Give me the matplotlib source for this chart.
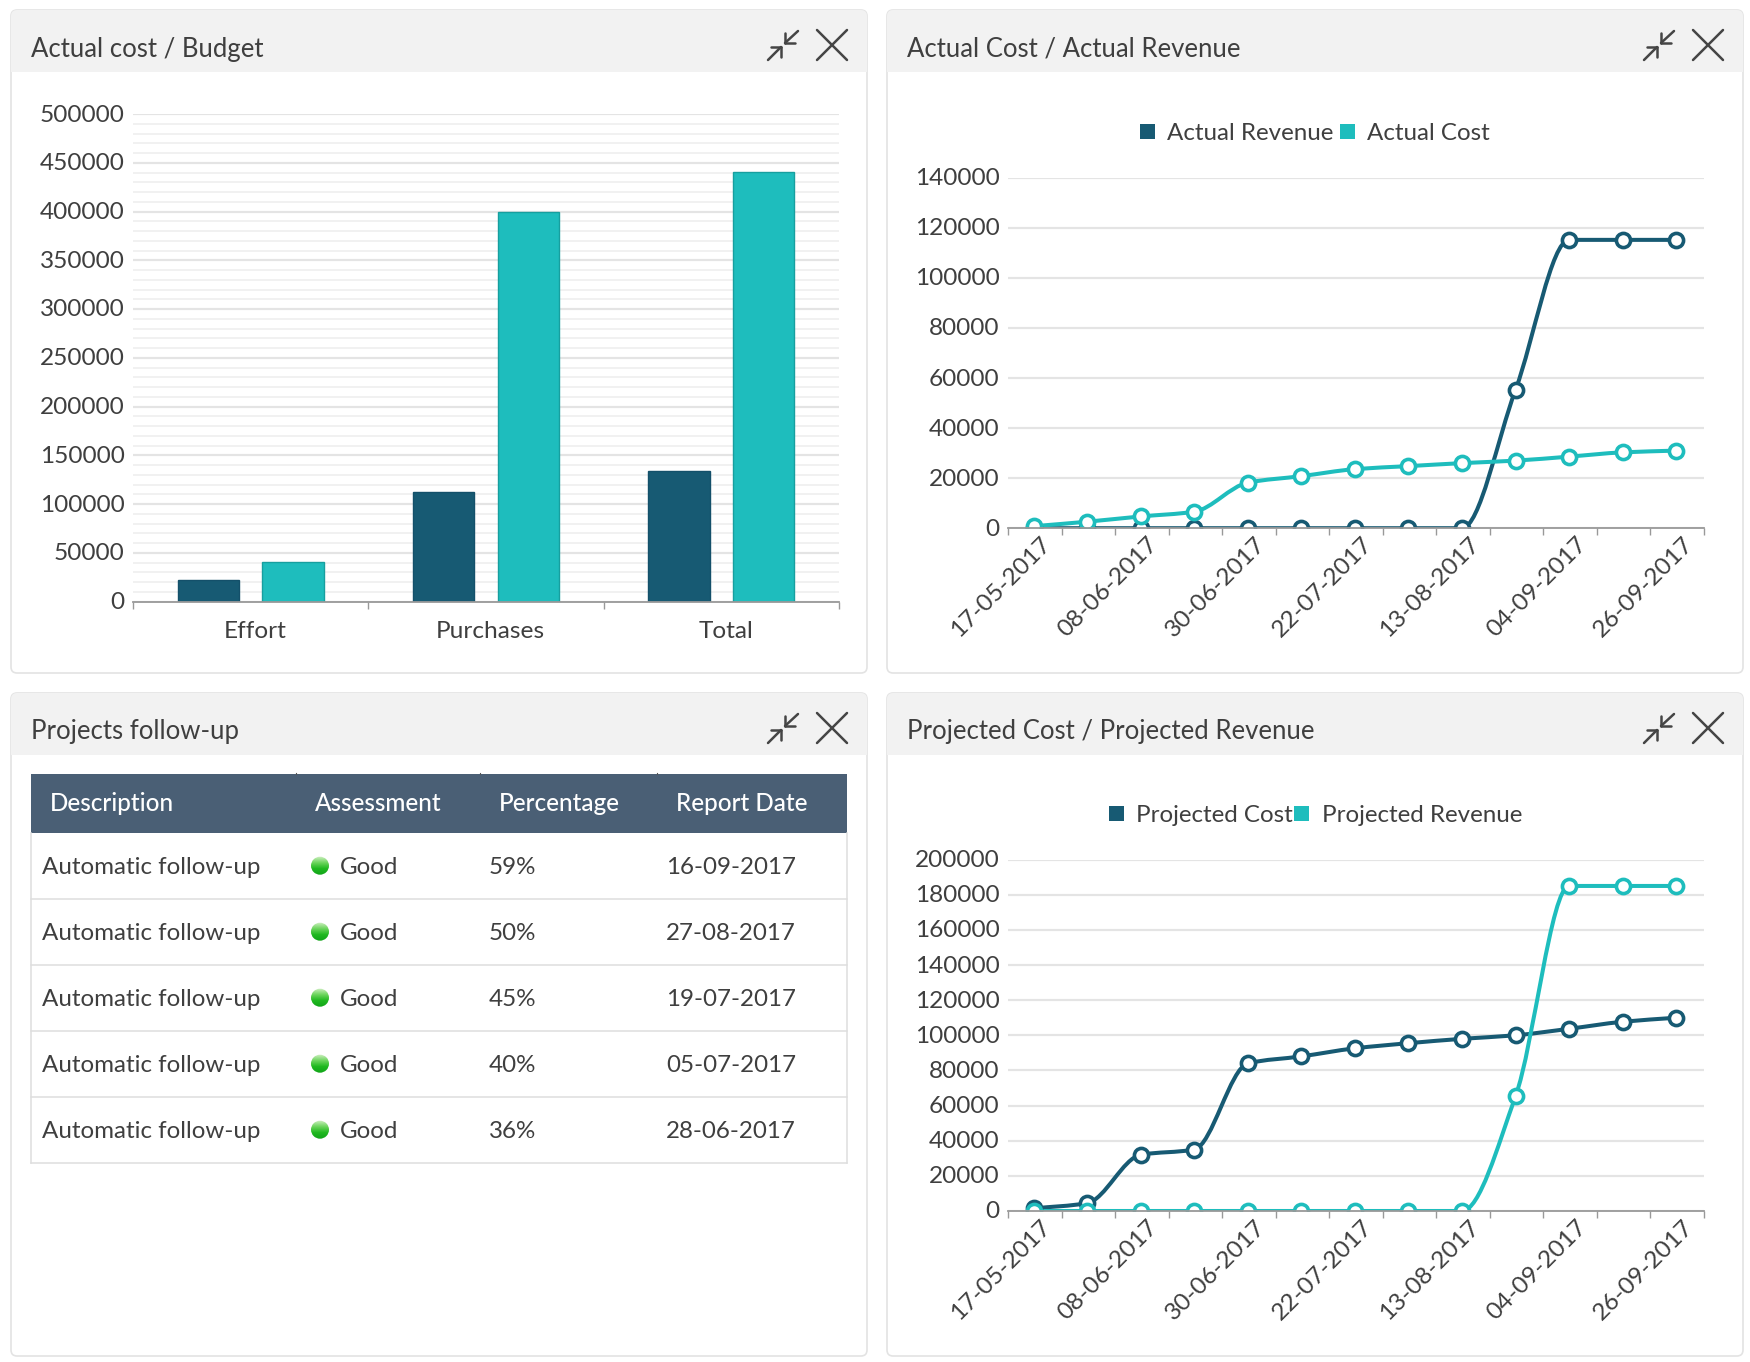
import numpy as np
import matplotlib
matplotlib.use('Agg')
import matplotlib.pyplot as plt
from matplotlib.patches import FancyBboxPatch, Rectangle, PathPatch, Circle
from matplotlib.path import Path
from matplotlib.transforms import ScaledTranslation

W, H = 1750, 1362
plt.rcParams['font.family'] = ['Lato', 'DejaVu Sans']

DARK = '#175a73'
TEAL = '#1ebdbd'
TEXT = '#3f3f3f'
TICK_SIZE = 17.6
BODY_SIZE = 17.4

# --- data
bar_categories = ['Effort', 'Purchases', 'Total']
bar_actual = [22200, 112500, 133500]
bar_budget = [40900, 400000, 440800]

dates = ['17-05-2017', '28-05-2017', '08-06-2017', '19-06-2017', '30-06-2017',
         '11-07-2017', '22-07-2017', '02-08-2017', '13-08-2017', '24-08-2017',
         '04-09-2017', '15-09-2017', '26-09-2017']
actual_revenue = [0, 0, 0, 0, 0, 0, 0, 0, 0, 55300, 115200, 115200, 115200]
actual_cost = [800, 2600, 4700, 6600, 18200, 20800, 23600, 24800, 26000, 27000, 28600, 30300, 31000]
projected_cost = [1500, 4500, 32000, 35000, 84000, 88000, 92600, 95500, 98000, 100000, 103700, 107700, 110000]
projected_revenue = [0, 0, 0, 0, 0, 0, 0, 0, 0, 65300, 185000, 185000, 185000]

table_head = ['Description', 'Assessment', 'Percentage', 'Report Date']
table_desc = ['Automatic follow-up'] * 5
table_assess = ['Good'] * 5
table_pct = ['59%', '50%', '45%', '40%', '36%']
table_date = ['16-09-2017', '27-08-2017', '19-07-2017', '05-07-2017', '28-06-2017']

titles = ['Actual cost / Budget', 'Actual Cost / Actual Revenue',
          'Projects follow-up', 'Projected Cost / Projected Revenue']


def px_axes(fig, left, top, right, bottom):
    ax = fig.add_axes([left / W, 1 - bottom / H, (right - left) / W, (bottom - top) / H])
    ax.set_facecolor('none')
    return ax


def nudge(labels, fig, dx, dy):
    # move tick labels by some pixels, has to come after tick_params
    for label in labels:
        label.set_transform(label.get_transform() + ScaledTranslation(dx / 100, dy / 100, fig.dpi_scale_trans))


def smooth_path(x, y):
    # monotone cubic through the points, same look as the dashboard lines
    y = np.asarray(y, dtype=float)
    d = np.diff(y)
    m = np.zeros(len(y))
    m[0], m[-1] = d[0], d[-1]
    for i in range(1, len(y) - 1):
        if d[i - 1] * d[i] > 0:
            m[i] = 2 * d[i - 1] * d[i] / (d[i - 1] + d[i])
    verts = [(x[0], y[0])]
    codes = [Path.MOVETO]
    for i in range(len(y) - 1):
        verts += [(x[i] + 1 / 3, y[i] + m[i] / 3),
                  (x[i + 1] - 1 / 3, y[i + 1] - m[i + 1] / 3),
                  (x[i + 1], y[i + 1])]
        codes += [Path.CURVE4] * 3
    return Path(verts, codes)


def panel(bg, left, top, title):
    width, height, head = 856, 663, 62
    box = FancyBboxPatch((left + 5, top + 5), width - 10, height - 10,
                         boxstyle='round,pad=5,rounding_size=6', fc='white',
                         ec='#e3e3e3', lw=1.2, zorder=1, mutation_aspect=1)
    bg.add_patch(box)
    header = Rectangle((left, top), width, head, fc='#f2f2f2', ec='none', zorder=2)
    bg.add_patch(header)
    header.set_clip_path(box)
    bg.text(left + 20, top + 39, title, fontsize=18.5, color=TEXT, va='center', zorder=3)
    # compress icon + close icon
    ox, oy = left - 11, top - 10
    segs = [((798, 31), (785, 43)), ((785, 33), (785, 43)), ((785, 43), (795, 43)),
            ((768, 60), (781, 47)), ((771, 47), (781, 47)), ((781, 47), (781, 57)),
            ((817, 30), (847, 60)), ((817, 60), (847, 30))]
    for (x0, y0), (x1, y1) in segs:
        bg.plot([x0 + ox, x1 + ox], [y0 + oy, y1 + oy], color='#454545', lw=1.8,
                solid_capstyle='round', zorder=3)


def legend(bg, entries, y):
    for square_x, text_x, label, color in entries:
        bg.add_patch(Rectangle((square_x, y - 8), 15, 15, fc=color, ec='none', zorder=3))
        bg.text(text_x, y + 1, label, fontsize=BODY_SIZE, color=TEXT, va='center', zorder=3)


def style_axis(ax):
    for side in ['top', 'left', 'right']:
        ax.spines[side].set_visible(False)
    ax.spines['bottom'].set_color('#999999')
    ax.spines['bottom'].set_linewidth(1.3)
    ax.set_axisbelow(True)
    ax.tick_params(axis='y', length=0, labelsize=TICK_SIZE, labelcolor=TEXT, pad=6)
    ax.grid(axis='y', which='major', color='#e4e4e4', lw=1.6)
    nudge(ax.get_yticklabels(), ax.figure, 0, 1)


def line_chart(fig, top, bottom, first, second, ymax, step):
    ax = px_axes(fig, 1008, top, 1704, bottom)
    pos = np.arange(len(dates)) - 0.02
    for values, color in [first, second]:
        ax.add_patch(PathPatch(smooth_path(pos, values), fill=False, ec=color, lw=2.9))
        ax.plot(pos, values, ls='none', marker='o', ms=10.2, mfc='white', mec=color, mew=2.6)
    ax.set_xlim(-0.5, 12.5)
    ax.set_ylim(0, ymax)
    ax.set_yticks(np.arange(0, ymax + 1, step))
    style_axis(ax)
    ax.set_xticks(np.arange(-0.5, 13))
    ax.set_xticks(np.arange(13), minor=True)
    ax.set_xticklabels([])
    ax.set_xticklabels([d if i % 2 == 0 else '' for i, d in enumerate(dates)], minor=True,
                       rotation=45, ha='right', va='top', rotation_mode='anchor',
                       fontsize=TICK_SIZE, color=TEXT)
    ax.tick_params(axis='x', which='major', length=5, color='#999999', width=1)
    ax.tick_params(axis='x', which='minor', length=0, pad=7)
    nudge(ax.get_xticklabels(minor=True), fig, 5.5, 4.5)
    return ax


fig = plt.figure(figsize=(W / 100, H / 100), dpi=100, facecolor='white')
bg = fig.add_axes([0, 0, 1, 1])
bg.set_xlim(0, W)
bg.set_ylim(H, 0)
bg.axis('off')

panel(bg, 11, 10, titles[0])
panel(bg, 887, 10, titles[1])
panel(bg, 11, 693, titles[2])
panel(bg, 887, 693, titles[3])

# --- bars
ax = px_axes(fig, 133, 114, 839, 601.5)
xpos = np.arange(len(bar_categories))
ax.bar(xpos - 0.18, bar_actual, width=0.26, color=DARK, edgecolor='#14506a', lw=1)
ax.bar(xpos + 0.18, bar_budget, width=0.26, color=TEAL, edgecolor='#179f9f', lw=1)
ax.set_xlim(-0.5, 2.5)
ax.set_ylim(0, 500000)
ax.set_yticks(np.arange(0, 500001, 50000))
ax.set_yticks(np.arange(0, 500001, 10000), minor=True)
style_axis(ax)
ax.grid(axis='y', which='minor', color='#f1f1f1', lw=1.4)
ax.set_xticks([-0.5, 0.5, 1.5, 2.5])
ax.set_xticklabels([])
ax.set_xticks(xpos, minor=True)
ax.set_xticklabels(bar_categories, minor=True, fontsize=TICK_SIZE, color=TEXT)
ax.tick_params(axis='y', which='minor', length=0)
ax.tick_params(axis='x', which='major', length=5, color='#999999', width=1)
ax.tick_params(axis='x', which='minor', length=0, pad=14)
nudge(ax.get_xticklabels(minor=True), fig, 4.5, 0)

# --- lines
line_chart(fig, 177.8, 528.2, (actual_revenue, DARK), (actual_cost, TEAL), 140000, 20000)
legend(bg, [(1140, 1167, 'Actual Revenue', DARK), (1339.5, 1367, 'Actual Cost', TEAL)], 132)

line_chart(fig, 859.6, 1211, (projected_cost, DARK), (projected_revenue, TEAL), 200000, 20000)
legend(bg, [(1108.5, 1136, 'Projected Cost', DARK), (1294, 1322, 'Projected Revenue', TEAL)], 814)

# --- table
head_x = [50, 315, 499, 676]
body_x = [41.5, 339.5, 489, 666]
dividers = [296, 480, 657]
head_top, head_bottom, row_h = 773.7, 832.7, 66
t_left, t_right = 31, 847

bg.add_patch(Rectangle((t_left, head_top), t_right - t_left, head_bottom - head_top,
                       fc='#4a5f75', ec='none', zorder=3))
for x in dividers:
    bg.plot([x, x], [head_top - 1, head_top + 0.5], color='#555555', lw=0.8, zorder=4)
for x, label in zip(head_x, table_head):
    bg.text(x, head_top + 30, label, fontsize=17.5, color='white', va='center', zorder=4,
            fontweight='medium')

gradient = np.linspace(0, 1, 32)[:, None]
green = matplotlib.colors.LinearSegmentedColormap.from_list(
    'good', ['#d0efc4', '#6fd65f', '#1fb81f', '#12a51a'])
for i in range(len(table_desc)):
    yc = head_bottom + row_h * (i + 0.5)
    bg.plot([t_left, t_right], [head_bottom + row_h * (i + 1)] * 2, color='#dedede', lw=1.1, zorder=3)
    for x, column in zip(body_x, [table_desc, table_assess, table_pct, table_date]):
        bg.text(x, yc + 2, column[i], fontsize=BODY_SIZE, color=TEXT, va='center', zorder=4)
    im = bg.imshow(gradient, cmap=green, aspect='auto', zorder=4,
                   extent=(311, 329, yc + 9, yc - 10))
    im.set_clip_path(Circle((320, yc), 9, transform=bg.transData))
table_bottom = head_bottom + row_h * len(table_desc)
bg.plot([t_left, t_left], [head_bottom, table_bottom], color='#dedede', lw=1.1, zorder=3)
bg.plot([t_right, t_right], [head_bottom, table_bottom], color='#dedede', lw=1.1, zorder=3)
bg.set_xlim(0, W)
bg.set_ylim(H, 0)

fig.savefig('out.png', dpi=100)
